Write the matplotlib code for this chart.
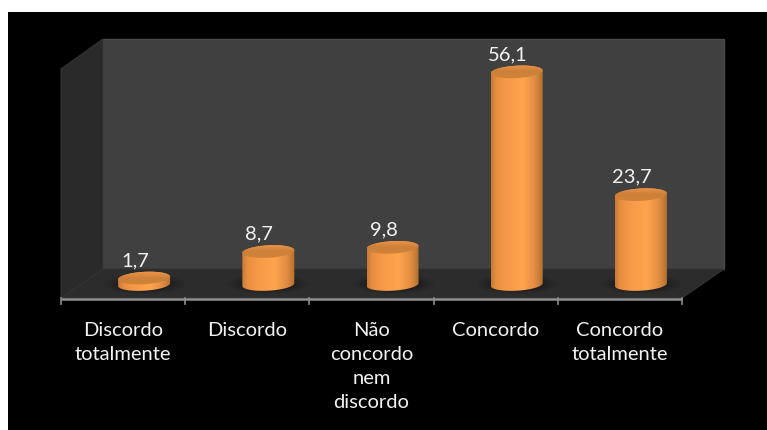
import matplotlib
matplotlib.use("Agg")
import matplotlib.pyplot as plt
import numpy as np
from matplotlib.colors import LinearSegmentedColormap
from matplotlib.patches import Polygon, Rectangle

categories = ["Discordo\ntotalmente", "Discordo", "Não\nconcordo\nnem\ndiscordo", "Concordo", "Concordo\ntotalmente"]
values = [1.7, 8.7, 9.8, 56.1, 23.7]
value_labels = ["1,7", "8,7", "9,8", "56,1", "23,7"]

W, H = 767, 430
plt.rcParams['font.family'] = ['Lato', 'DejaVu Sans']
fig = plt.figure(figsize=(W / 100, H / 100), dpi=100, facecolor='white')

# background layer in pixel coordinates: the fake 3D box
bg = fig.add_axes([0, 0, 1, 1])
bg.set_xlim(0, W)
bg.set_ylim(H, 0)
bg.axis('off')
bg.add_patch(Rectangle((8, 12), W - 8, H - 12, fc='black', ec='none'))
bg.add_patch(Polygon([(103, 39), (724, 39), (724, 269), (103, 269)], fc='#404040', ec='#4a4a4a', lw=1))
bg.add_patch(Polygon([(61, 69), (103, 39), (103, 269), (61, 298)], fc='#2a2a2a', ec='#333333', lw=0.8))
bg.add_patch(Polygon([(61, 298), (103, 269), (724, 269), (682, 298)], fc='#2c2c2c', ec='#333333', lw=0.8))
bg.plot([61, 682], [298.5, 298.5], color='#8f8f8f', lw=1.8, solid_capstyle='butt')
for i in range(6):
    tx = 61 + i * 124.2
    bg.plot([tx, tx], [298, 304], color='#8f8f8f', lw=1.2)

# cylinders live on a real axes, value scale runs a bit below zero so the round bottoms fit
px_per_unit = 3.79
base_y = 284.5
y_lo, y_hi = -10, 60
ax = fig.add_axes([61 / W, 1 - (base_y - y_lo * px_per_unit) / H, 642 / W, (y_hi - y_lo) * px_per_unit / H])
ax.patch.set_alpha(0)
ax.axis('off')
x_lo = -21 / 124.2
x_hi = 5
ax.set_xlim(x_lo, x_hi)
ax.set_ylim(y_lo, y_hi)

half_w = 26 / 124.2
half_h = 6.2 / px_per_unit
skew = 1.4 / px_per_unit

body_cmap = LinearSegmentedColormap.from_list('body', [
    (0.0, '#c47a36'), (0.10, '#e88e40'), (0.30, '#f79a48'), (0.62, '#ffa44e'),
    (0.85, '#e08c42'), (1.0, '#b0702f')])
top_cmap = LinearSegmentedColormap.from_list('top', ['#d08438', '#cd8039', '#f49a4c'])

t = np.linspace(0, 2 * np.pi, 121)
for i, v in enumerate(values):
    cx = i + 0.5

    # soft shadow on the floor
    sx = np.linspace(-1, 1, 120)
    sy = np.linspace(-1, 1, 60)
    xx, yy = np.meshgrid(sx, sy)
    rgba = np.zeros((60, 120, 4))
    rgba[..., 3] = np.clip(1 - np.sqrt(xx ** 2 + yy ** 2), 0, 1) ** 1.1 * 0.9
    sh_w = 42 / 124.2
    sh_h = 10 / px_per_unit
    ax.imshow(rgba, extent=[cx - sh_w, cx + sh_w, -sh_h, sh_h], aspect='auto', zorder=1,
              interpolation='bilinear')

    # body = bottom half of lower ellipse + top half of upper ellipse
    lower = np.linspace(np.pi, 2 * np.pi, 60)
    upper = np.linspace(0, np.pi, 60)
    bx = np.r_[cx + half_w * np.cos(lower), cx + half_w * np.cos(upper)]
    by = np.r_[half_h * np.sin(lower) + skew * np.cos(lower),
               v + half_h * np.sin(upper) + skew * np.cos(upper)]
    body = Polygon(np.c_[bx, by], fc='none', ec='none', transform=ax.transData)
    ax.add_patch(body)
    grad = np.linspace(0, 1, 256).reshape(1, -1)
    im = ax.imshow(grad, extent=[cx - half_w, cx + half_w, -half_h - skew, v + half_h + skew],
                   cmap=body_cmap, aspect='auto', zorder=2)
    im.set_clip_path(body)

    # top cap
    ex = cx + half_w * np.cos(t)
    ey = v + half_h * np.sin(t) + skew * np.cos(t)
    cap = Polygon(np.c_[ex, ey], fc='none', ec='none', transform=ax.transData)
    ax.add_patch(cap)
    cap_grad = np.linspace(1, 0, 64).reshape(-1, 1)
    im2 = ax.imshow(cap_grad, extent=[cx - half_w, cx + half_w, v - half_h - skew, v + half_h + skew],
                    cmap=top_cmap, aspect='auto', zorder=3, origin='upper')
    im2.set_clip_path(cap)

    ax.annotate(value_labels[i], (cx, v), xytext=(-6.5, 12.5), textcoords='offset points',
                ha='center', va='center', color='#f2f2f2', fontsize=14.5, zorder=5,
                annotation_clip=False)

    # category label sits under the front edge of the box
    lines = categories[i].split("\n")
    for j, line in enumerate(lines):
        ax.annotate(line, (cx, 0), xytext=(-21 * 0.72, -(45.5 + j * 24.3) * 0.72),
                    textcoords='offset points', ha='center', va='center',
                    color='#f2f2f2', fontsize=14.5, annotation_clip=False)

ax.set_xlim(x_lo, x_hi)
ax.set_ylim(y_lo, y_hi)
fig.savefig("out.png", dpi=100)
